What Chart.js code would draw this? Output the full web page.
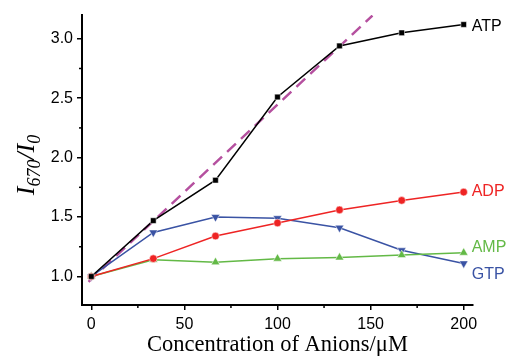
<!DOCTYPE html>
<html><head><meta charset="utf-8">
<script src="https://cdn.jsdelivr.net/npm/chart.js@4"></script>
<style>html,body{margin:0;padding:0;background:#fff}#wrap{width:506px;height:359px}</style>
</head><body><div id="wrap"><canvas id="c" width="506" height="359"></canvas></div>
<script>
const concentrations = [0, 33.3, 66.7, 100, 133.3, 166.7, 200];
const ATP = [1.00, 1.47, 1.81, 2.51, 2.94, 3.05, 3.12];
const ADP = [1.00, 1.15, 1.34, 1.45, 1.56, 1.64, 1.71];
const AMP = [1.00, 1.14, 1.12, 1.15, 1.16, 1.18, 1.20];
const GTP = [1.00, 1.37, 1.50, 1.49, 1.41, 1.22, 1.11];
const fitX = [-1.5, 151];
const fitY = [0.955, 3.195];
const seriesNames = ['ATP', 'ADP', 'AMP', 'GTP'];
const xTicks = [0, 50, 100, 150, 200];
const yTicks = [1.0, 1.5, 2.0, 2.5, 3.0];

const toPts = (xs, ys) => xs.map((x, i) => ({x, y: ys[i]}));
const colors = {ATP: '#000000', ADP: '#ee2424', AMP: '#63b946', GTP: '#3a53a4'};
const labelDy = {ATP: 2, ADP: 0, AMP: -5, GTP: 11};

const deco = {
  id: 'deco',
  afterDraw(chart) {
    const ctx = chart.ctx, xs = chart.scales.x, ys = chart.scales.y;
    const ca = chart.chartArea;
    ctx.save();
    ctx.strokeStyle = '#000'; ctx.lineWidth = 1.5;
    for (let v = 25; v <= 200; v += 50) {
      const p = xs.getPixelForValue(v);
      ctx.beginPath(); ctx.moveTo(p, ca.bottom); ctx.lineTo(p, ca.bottom + 3); ctx.stroke();
    }
    for (let v = 1.25; v <= 3.2; v += 0.5) {
      const p = ys.getPixelForValue(v);
      ctx.beginPath(); ctx.moveTo(ca.left, p); ctx.lineTo(ca.left - 3, p); ctx.stroke();
    }
    ctx.font = '16px "Liberation Sans", Arial, sans-serif';
    ctx.textBaseline = 'middle'; ctx.textAlign = 'left';
    chart.data.datasets.forEach((ds, i) => {
      if (!seriesNames.includes(ds.label)) return;
      const meta = chart.getDatasetMeta(i);
      const last = meta.data[meta.data.length - 1];
      ctx.fillStyle = colors[ds.label];
      ctx.fillText(ds.label, last.x + 8, last.y + labelDy[ds.label]);
    });
    ctx.translate(26, 165);
    ctx.rotate(-Math.PI / 2);
    ctx.fillStyle = '#000';
    ctx.textBaseline = 'alphabetic';
    const big = 'italic 26px "Liberation Serif", "Times New Roman", serif';
    const small = 'italic 18px "Liberation Serif", "Times New Roman", serif';
    const parts = [['I', big, 0], ['670', small, 6], ['/', big, 0], ['I', big, 0], ['0', small, 6]];
    let w = 0;
    parts.forEach(p => { ctx.font = p[1]; w += ctx.measureText(p[0]).width; });
    let x = -w / 2;
    parts.forEach(p => { ctx.font = p[1]; ctx.fillText(p[0], x, 8 + p[2]); x += ctx.measureText(p[0]).width; });
    ctx.restore();
  }
};

new Chart(document.getElementById('c'), {
  type: 'scatter',
  data: {
    datasets: [
      {label: 'ATP', data: toPts(concentrations, ATP), showLine: true, borderColor: colors.ATP, backgroundColor: colors.ATP, borderWidth: 1.5, pointStyle: 'rect', pointRadius: 4, pointBorderWidth: 0.5, pointBorderColor: '#fff'},
      {label: 'ADP', data: toPts(concentrations, ADP), showLine: true, borderColor: colors.ADP, backgroundColor: colors.ADP, borderWidth: 1.5, pointStyle: 'circle', pointRadius: 3.8, pointBorderWidth: 0.5, pointBorderColor: '#fff'},
      {label: 'AMP', data: toPts(concentrations, AMP), showLine: true, borderColor: colors.AMP, backgroundColor: colors.AMP, borderWidth: 1.5, pointStyle: 'triangle', pointRadius: 5, pointBorderWidth: 0.5, pointBorderColor: '#fff'},
      {label: 'GTP', data: toPts(concentrations, GTP), showLine: true, borderColor: colors.GTP, backgroundColor: colors.GTP, borderWidth: 1.5, pointStyle: 'triangle', pointRotation: 180, pointRadius: 5, pointBorderWidth: 0.5, pointBorderColor: '#fff'},
      {label: 'fit', data: toPts(fitX, fitY), showLine: true, borderColor: '#b5509f', borderWidth: 2.5, borderDash: [12, 7], pointRadius: 0}
    ]
  },
  options: {
    responsive: false, animation: false,
    layout: {padding: {top: 15, right: 33, left: 0, bottom: 0}},
    plugins: {legend: {display: false}, tooltip: {enabled: false}},
    scales: {
      x: {
        type: 'linear', min: -5, max: 205,
        afterFit: s => { s.height = 54; },
        afterBuildTicks: s => { s.ticks = xTicks.map(v => ({value: v})); },
        ticks: {color: '#000', font: {family: '"Liberation Sans", Arial, sans-serif', size: 16}, padding: 5, maxRotation: 0},
        grid: {drawOnChartArea: false, drawTicks: true, tickLength: 5, color: '#000', lineWidth: 1.5},
        border: {display: true, color: '#000', width: 2},
        title: {display: true, text: 'Concentration of Anions/\u03bcM', color: '#000', font: {family: '"Liberation Serif", "Times New Roman", serif', size: 22.5}, padding: {top: 0, bottom: 0}}
      },
      y: {
        type: 'linear', min: 0.76, max: 3.2,
        afterFit: s => { s.width = 82; },
        afterBuildTicks: s => { s.ticks = yTicks.map(v => ({value: v})); },
        ticks: {color: '#000', font: {family: '"Liberation Sans", Arial, sans-serif', size: 16}, padding: 4, callback: v => v.toFixed(1)},
        grid: {drawOnChartArea: false, drawTicks: true, tickLength: 5, color: '#000', lineWidth: 1.5},
        border: {display: true, color: '#000', width: 2}
      }
    }
  },
  plugins: [deco]
});
</script></body></html>
